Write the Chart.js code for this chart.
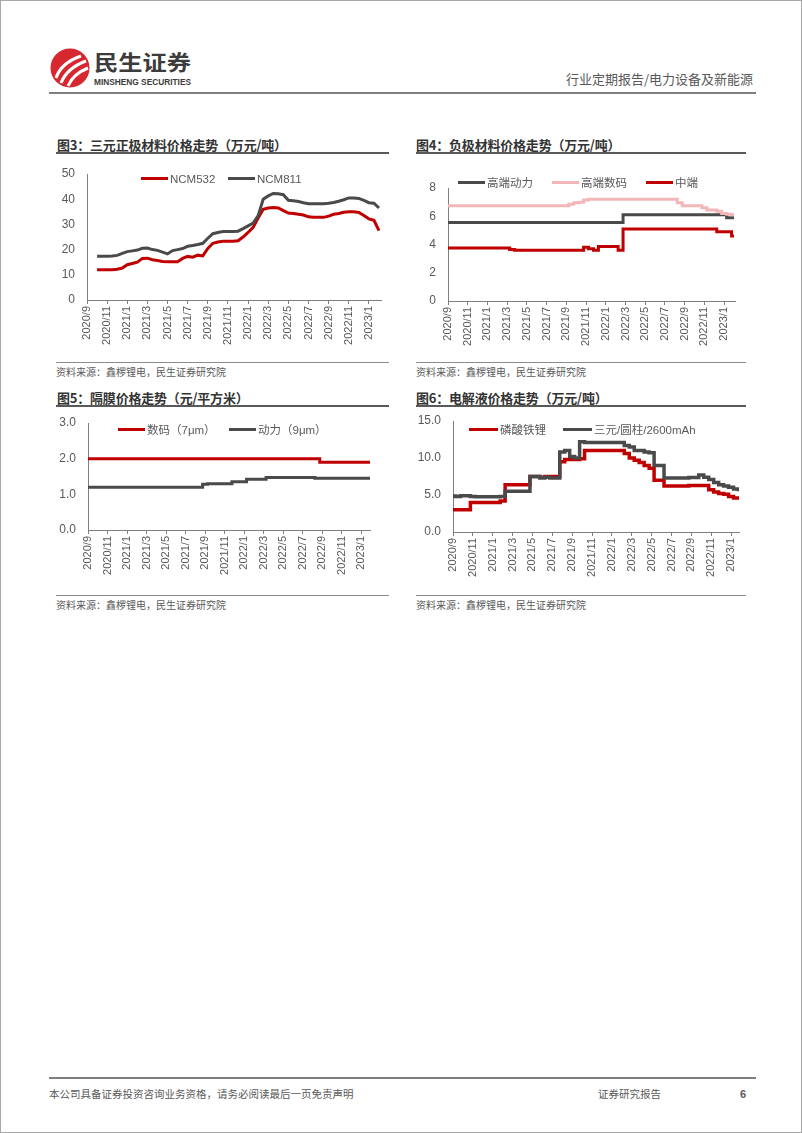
<!DOCTYPE html>
<html>
<head>
<meta charset="utf-8">
<script src="https://cdn.jsdelivr.net/npm/chart.js@4.4.0/dist/chart.umd.min.js"></script>
<style>
  body { margin: 0; background: #fff; }
  #page { position: relative; width: 802px; height: 1133px; box-sizing: border-box; border: 1px solid #a8a8a8; overflow: hidden;
          font-family: 'Liberation Sans', 'Noto Sans CJK SC', sans-serif; color: #595959; }
  .abs { position: absolute; white-space: nowrap; }
  .hr { position: absolute; background: #7f7f7f; }
  .title { position: absolute; font-size: 13px; letter-spacing: -0.2px; font-weight: bold; color: #333; line-height: 16px; font-family: 'Noto Sans CJK SC', sans-serif; }
  .src { position: absolute; font-size: 10px; line-height: 12px; font-family: 'Noto Sans CJK SC', sans-serif; color: #595959; }
  .lg { position: absolute; font-size: 11.5px; line-height: 12px; white-space: nowrap; color: #595959; font-family: 'Liberation Sans', 'Noto Sans CJK SC', sans-serif; }
  .lg i { display: inline-block; width: 27px; height: 3px; vertical-align: middle; margin-right: 2px; position: relative; top: -1px; }
  canvas { position: absolute; }
</style>
</head>
<body>
<div id="page">
  <!-- header -->
  <svg class="abs" style="left:46px;top:44px" width="160" height="46">
    <circle cx="23" cy="23" r="19.5" fill="#d7282f"/>
    <path d="M9 33 Q14 18 34 11" stroke="#fff" stroke-width="3" fill="none"/>
    <path d="M14 38 Q20 23 39 16" stroke="#fff" stroke-width="3" fill="none"/>
    <path d="M21 41 Q26 29 41 23" stroke="#fff" stroke-width="3" fill="none"/>
    <text x="47" y="25" font-size="21" font-weight="bold" fill="#3c3c3c" font-family="Noto Sans CJK SC" textLength="97" lengthAdjust="spacingAndGlyphs">民生证券</text>
    <text x="47" y="40" font-size="8.5" font-weight="bold" fill="#3c3c3c" font-family="Liberation Sans" textLength="97" lengthAdjust="spacingAndGlyphs">MINSHENG SECURITIES</text>
  </svg>
  <div class="abs" style="right:48px;top:70px;font-size:13px;font-family:'Noto Sans CJK SC';line-height:16px;">行业定期报告/电力设备及新能源</div>
  <div class="hr" style="left:48px;top:91px;width:707px;height:1.5px;"></div>

  <!-- chart 3 -->
  <div class="title" style="left:56px;top:136px;">图3：三元正极材料价格走势（万元/吨）</div>
  <div class="hr" style="left:55px;top:151px;width:333px;height:1.5px;background:#595959;"></div>
  <canvas id="c3" width="345" height="206" style="left:48px;top:149px;"></canvas>
  <div class="lg" style="left:140px;top:172px;"><i style="background:#c00000"></i>NCM532</div>
  <div class="lg" style="left:227px;top:172px;"><i style="background:#4a4a4a"></i>NCM811</div>
  <div class="hr" style="left:55px;top:361px;width:333px;height:1px;background:#8c8c8c;"></div>
  <div class="src" style="left:55px;top:365px;">资料来源：鑫椤锂电，民生证券研究院</div>

  <!-- chart 4 -->
  <div class="title" style="left:415px;top:136px;">图4：负极材料价格走势（万元/吨）</div>
  <div class="hr" style="left:415px;top:151px;width:330px;height:1.5px;background:#595959;"></div>
  <canvas id="c4" width="340" height="190" style="left:408px;top:165px;"></canvas>
  <div class="lg" style="left:457px;top:176px;"><i style="background:#4a4a4a"></i>高端动力</div>
  <div class="lg" style="left:551px;top:176px;"><i style="background:#f3b6b9"></i>高端数码</div>
  <div class="lg" style="left:645px;top:176px;"><i style="background:#c00000"></i>中端</div>
  <div class="hr" style="left:415px;top:361px;width:330px;height:1px;background:#8c8c8c;"></div>
  <div class="src" style="left:415px;top:365px;">资料来源：鑫椤锂电，民生证券研究院</div>

  <!-- chart 5 -->
  <div class="title" style="left:56px;top:389px;">图5：隔膜价格走势（元/平方米）</div>
  <div class="hr" style="left:55px;top:404px;width:333px;height:1.5px;background:#595959;"></div>
  <canvas id="c5" width="340" height="187" style="left:48px;top:398px;"></canvas>
  <div class="lg" style="left:117px;top:423px;"><i style="background:#c00000"></i>数码（7μm）</div>
  <div class="lg" style="left:228px;top:423px;"><i style="background:#4a4a4a"></i>动力（9μm）</div>
  <div class="hr" style="left:55px;top:594px;width:333px;height:1px;background:#8c8c8c;"></div>
  <div class="src" style="left:55px;top:598px;">资料来源：鑫椤锂电，民生证券研究院</div>

  <!-- chart 6 -->
  <div class="title" style="left:415px;top:389px;">图6：电解液价格走势（万元/吨）</div>
  <div class="hr" style="left:415px;top:404px;width:330px;height:1.5px;background:#595959;"></div>
  <canvas id="c6" width="345" height="189" style="left:408px;top:396px;"></canvas>
  <div class="lg" style="left:468px;top:423px;"><i style="background:#c00000;width:29px"></i>磷酸铁锂</div>
  <div class="lg" style="left:562px;top:423px;"><i style="background:#4a4a4a;width:29px"></i>三元/圆柱/2600mAh</div>
  <div class="hr" style="left:415px;top:594px;width:330px;height:1px;background:#8c8c8c;"></div>
  <div class="src" style="left:415px;top:598px;">资料来源：鑫椤锂电，民生证券研究院</div>

  <!-- footer -->
  <div class="hr" style="left:48px;top:1076px;width:707px;height:1.5px;"></div>
  <div class="abs" style="left:48px;top:1086px;font-size:10.5px;font-family:'Noto Sans CJK SC';line-height:14px;">本公司具备证券投资咨询业务资格，请务必阅读最后一页免责声明</div>
  <div class="abs" style="left:597px;top:1086px;font-size:10.5px;font-family:'Noto Sans CJK SC';line-height:14px;">证券研究报告</div>
  <div class="abs" style="left:739px;top:1086px;font-size:11px;font-weight:bold;line-height:14px;">6</div>
</div>

<script>
// half-month grid shared by all four charts
var dates = [
  '2020/9/1','2020/9/16','2020/10/1','2020/10/16','2020/11/1','2020/11/16','2020/12/1','2020/12/16',
  '2021/1/1','2021/1/16','2021/2/1','2021/2/16','2021/3/1','2021/3/16','2021/4/1','2021/4/16',
  '2021/5/1','2021/5/16','2021/6/1','2021/6/16','2021/7/1','2021/7/16','2021/8/1','2021/8/16',
  '2021/9/1','2021/9/16','2021/10/1','2021/10/16','2021/11/1','2021/11/16','2021/12/1','2021/12/16',
  '2022/1/1','2022/1/16','2022/2/1','2022/2/16','2022/3/1','2022/3/16','2022/4/1','2022/4/16',
  '2022/5/1','2022/5/16','2022/6/1','2022/6/16','2022/7/1','2022/7/16','2022/8/1','2022/8/16',
  '2022/9/1','2022/9/16','2022/10/1','2022/10/16','2022/11/1','2022/11/16','2022/12/1','2022/12/16',
  '2023/1/1','2023/1/16','2023/2/1'
];
var tickLabels = ['2020/9','2020/11','2021/1','2021/3','2021/5','2021/7','2021/9','2021/11',
  '2022/1','2022/3','2022/5','2022/7','2022/9','2022/11','2023/1'];

// 图3 三元正极
var ncm532 = [null,null,12.0,12.0,12.0,12.0,12.2,12.7,14.0,14.5,
  15.0,16.5,16.6,16.0,15.7,15.3,15.2,15.2,15.2,16.5,
  17.3,17.0,17.8,17.5,20.5,22.5,23.0,23.3,23.3,23.3,
  23.5,25.0,26.8,28.8,32.5,36.0,36.5,36.7,36.5,35.5,
  34.5,34.3,34.0,33.7,33.0,32.8,32.8,32.8,33.3,34.0,
  34.3,34.8,35.0,35.0,34.7,33.5,32.2,31.6,27.5];
var ncm811 = [null,null,17.4,17.4,17.4,17.5,17.7,18.5,19.2,19.5,
  19.8,20.5,20.6,20.0,19.7,19.0,18.3,19.6,20.0,20.4,
  21.3,21.6,22.0,22.5,24.5,26.3,26.8,27.2,27.2,27.2,
  27.3,28.3,29.4,30.5,33.5,40.0,41.3,42.3,42.2,41.8,
  39.6,39.4,39.1,38.6,38.2,38.2,38.2,38.2,38.4,38.7,
  39.2,39.8,40.5,40.5,40.3,39.5,38.6,38.4,36.5];

// 图4 负极
var gaoduanDongli = [5.55,5.55,5.55,5.55,5.55,5.55,5.55,5.55,5.55,5.55,
  5.55,5.55,5.55,5.55,5.55,5.55,5.55,5.55,5.55,5.55,
  5.55,5.55,5.55,5.55,5.55,5.55,5.55,5.55,5.55,5.55,
  5.55,5.55,5.55,5.55,5.55,5.55,6.1,6.1,6.1,6.1,
  6.1,6.1,6.1,6.1,6.1,6.1,6.1,6.1,6.1,6.1,
  6.1,6.1,6.1,6.1,6.1,6.1,6.1,5.9,5.9];
var gaoduanShuma = [6.75,6.75,6.75,6.75,6.75,6.75,6.75,6.75,6.75,6.75,
  6.75,6.75,6.75,6.75,6.75,6.75,6.75,6.75,6.75,6.75,
  6.75,6.75,6.75,6.75,6.75,6.85,6.95,7.0,7.15,7.2,
  7.2,7.2,7.2,7.2,7.2,7.2,7.2,7.2,7.2,7.2,
  7.2,7.2,7.2,7.2,7.2,7.2,7.2,6.95,6.75,6.75,
  6.75,6.75,6.6,6.45,6.45,6.35,6.2,6.15,6.1];
var zhongduan = [3.75,3.75,3.75,3.75,3.75,3.75,3.75,3.75,3.75,3.75,
  3.75,3.75,3.75,3.65,3.6,3.6,3.6,3.6,3.6,3.6,
  3.6,3.6,3.6,3.6,3.6,3.6,3.6,3.6,3.8,3.7,
  3.6,3.85,3.85,3.85,3.85,3.6,5.1,5.1,5.1,5.1,
  5.1,5.1,5.1,5.1,5.1,5.1,5.1,5.1,5.1,5.1,
  5.1,5.1,5.1,5.1,5.1,4.9,4.9,4.9,4.6];

// 图5 隔膜
var shuma7 = [2.0,2.0,2.0,2.0,2.0,2.0,2.0,2.0,2.0,2.0,
  2.0,2.0,2.0,2.0,2.0,2.0,2.0,2.0,2.0,2.0,
  2.0,2.0,2.0,2.0,2.0,2.0,2.0,2.0,2.0,2.0,
  2.0,2.0,2.0,2.0,2.0,2.0,2.0,2.0,2.0,2.0,
  2.0,2.0,2.0,2.0,2.0,2.0,2.0,2.0,1.9,1.9,
  1.9,1.9,1.9,1.9,1.9,1.9,1.9,1.9,1.9];
var dongli9 = [1.2,1.2,1.2,1.2,1.2,1.2,1.2,1.2,1.2,1.2,
  1.2,1.2,1.2,1.2,1.2,1.2,1.2,1.2,1.2,1.2,
  1.2,1.2,1.2,1.2,1.28,1.3,1.3,1.3,1.3,1.3,
  1.35,1.35,1.35,1.42,1.42,1.42,1.42,1.47,1.47,1.47,
  1.47,1.47,1.47,1.47,1.47,1.47,1.47,1.45,1.45,1.45,
  1.45,1.45,1.45,1.45,1.45,1.45,1.45,1.45,1.45];

// 图6 电解液
var lfp = [3.0,3.0,3.0,3.0,4.0,4.0,4.0,4.0,4.0,4.0,
  4.2,6.4,6.4,6.4,6.4,6.4,7.5,7.5,7.4,7.5,
  7.5,7.5,9.5,9.8,9.8,9.8,9.9,11.0,11.0,11.0,
  11.0,11.0,11.0,11.0,11.0,10.6,10.0,9.7,9.4,9.0,
  8.6,7.0,7.0,6.2,6.2,6.2,6.2,6.2,6.3,6.3,
  6.3,6.3,5.7,5.4,5.2,5.1,4.8,4.6,4.6];
var sanyuan = [4.85,4.8,4.9,4.9,4.8,4.75,4.75,4.75,4.75,4.75,
  4.8,5.5,5.5,5.5,5.5,5.5,7.5,7.5,7.3,7.4,
  7.3,7.3,10.8,11.0,10.2,10.0,12.2,12.1,12.1,12.1,
  12.1,12.1,12.1,12.1,12.1,11.7,11.5,11.0,11.0,10.8,
  10.7,9.0,9.0,7.3,7.3,7.3,7.3,7.3,7.35,7.35,
  7.7,7.4,7.1,6.7,6.4,6.2,6.05,5.8,5.75];

var RED = '#c00000', GRAY = '#4a4a4a', PINK = '#f3b6b9';
var AXIS = '#7f7f7f';
var FONT = "'Liberation Sans', 'Noto Sans CJK SC', sans-serif";

function monthOffset(s) {
  var p = s.split('/').map(Number);
  return (p[0] - 2020) * 12 + (p[1] - 9) + (p[2] - 1) / 30;
}
function pts(vals) {
  return dates.map(function (d, i) { return { x: monthOffset(d), y: vals[i] }; });
}

function makeChart(id, series, o) {
  var datasets = series.map(function (s, i) {
    return {
      label: s.label, data: pts(s.data), borderColor: s.color, backgroundColor: s.color,
      borderWidth: s.width || 3, pointRadius: 0, tension: 0, fill: false,
      stepped: o.stepped || false, order: series.length - i
    };
  });
  return new Chart(document.getElementById(id), {
    type: 'line',
    data: { datasets: datasets },
    options: {
      responsive: false,
      animation: false,
      layout: { padding: { top: o.padTop, right: o.padRight, left: 0, bottom: 0 } },
      plugins: { legend: { display: false }, tooltip: { enabled: false } },
      scales: {
        x: {
          type: 'linear', min: 0, max: o.xMax,
          grid: { display: true, drawOnChartArea: false, drawTicks: true, tickLength: 4, color: AXIS },
          border: { display: true, color: AXIS, width: 1 },
          ticks: {
            stepSize: 2, includeBounds: false, autoSkip: false, minRotation: 90, maxRotation: 90,
            padding: 2, color: '#595959', font: { family: FONT, size: 11 },
            callback: function (v) { return tickLabels[v / 2]; }
          },
          afterFit: function (s) { s.height = o.xH; }
        },
        y: {
          min: o.yMin, max: o.yMax,
          grid: { display: false, drawTicks: false },
          border: { display: true, color: AXIS, width: 1 },
          ticks: {
            stepSize: o.yStep, padding: 12, color: '#595959', font: { family: FONT, size: 12 },
            callback: function (v) { return o.yDec ? v.toFixed(o.yDec) : v; }
          },
          afterFit: function (s) { s.width = o.yW; }
        }
      }
    }
  });
}

makeChart('c3', [
  { label: 'NCM532', data: ncm532, color: RED },
  { label: 'NCM811', data: ncm811, color: GRAY }
], { xMax: 29.2, yMin: 0, yMax: 50, yStep: 10, yDec: 0, padTop: 24, padRight: 13, yW: 38, xH: 56 });

makeChart('c4', [
  { label: '高端动力', data: gaoduanDongli, color: GRAY },
  { label: '高端数码', data: gaoduanShuma, color: PINK },
  { label: '中端', data: zhongduan, color: RED }
], { xMax: 29.1, yMin: 0, yMax: 8, yStep: 2, yDec: 0, padTop: 22, padRight: 14, yW: 39, xH: 55, stepped: 'middle' });

makeChart('c5', [
  { label: '数码（7μm）', data: shuma7, color: RED },
  { label: '动力（9μm）', data: dongli9, color: GRAY }
], { xMax: 28.9, yMin: 0, yMax: 3, yStep: 1, yDec: 1, padTop: 24, padRight: 19, yW: 39, xH: 56, stepped: 'middle' });

makeChart('c6', [
  { label: '磷酸铁锂', data: lfp, color: RED, width: 3.5 },
  { label: '三元/圆柱/2600mAh', data: sanyuan, color: GRAY, width: 3.5 }
], { xMax: 28.8, yMin: 0, yMax: 15, yStep: 5, yDec: 1, padTop: 24, padRight: 15, yW: 44, xH: 54, stepped: 'middle' });
</script>
</body>
</html>
